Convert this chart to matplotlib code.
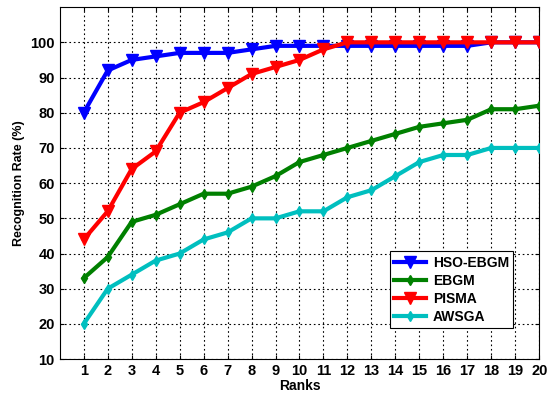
import matplotlib
matplotlib.use("Agg")
import matplotlib.pyplot as plt

ranks = list(range(1, 21))
hso_ebgm = [80, 92, 95, 96, 97, 97, 97, 98, 99, 99, 99, 99, 99, 99, 99, 99, 99, 100, 100, 100]
ebgm = [33, 39, 49, 51, 54, 57, 57, 59, 62, 66, 68, 70, 72, 74, 76, 77, 78, 81, 81, 82]
pisma = [44, 52, 64, 69, 80, 83, 87, 91, 93, 95, 98, 100, 100, 100, 100, 100, 100, 100, 100, 100]
awsga = [20, 30, 34, 38, 40, 44, 46, 50, 50, 52, 52, 56, 58, 62, 66, 68, 68, 70, 70, 70]
yticks = list(range(10, 101, 10))

plt.rcParams['font.family'] = ['Liberation Sans', 'DejaVu Sans']
plt.rcParams['font.weight'] = 'bold'

fig = plt.figure(figsize=(5.48, 3.96), dpi=100)
ax = fig.add_axes([0.109, 0.093, 0.875, 0.889])

ax.plot(ranks, hso_ebgm, color='#0000ff', lw=3, marker='v', ms=9, label='HSO-EBGM', zorder=3)
ax.plot(ranks, ebgm, color='#008000', lw=3, marker='d', ms=5, label='EBGM', zorder=3)
ax.plot(ranks, pisma, color='#ff0000', lw=3, marker='v', ms=9, label='PISMA', zorder=4)
ax.plot(ranks, awsga, color='#00bfbf', lw=3, marker='d', ms=5, label='AWSGA', zorder=3)

ax.set_xlim(0, 20)
ax.set_ylim(10, 110)
ax.set_xticks(ranks)
ax.set_yticks(yticks)
ax.tick_params(labelsize=10.5, direction='in', length=3, top=True, right=True)
for lbl in ax.get_xticklabels() + ax.get_yticklabels():
    lbl.set_fontweight('bold')
ax.grid(True, color='black', linestyle=(0, (1.5, 2.5)), linewidth=0.8)
ax.set_xlabel('Ranks', fontsize=10, fontweight='bold', labelpad=1)
ax.set_ylabel('Recognition Rate (%)', fontsize=9, fontweight='bold')

leg = ax.legend(loc='lower right', bbox_to_anchor=(0.946, 0.088), fontsize=10,
                fancybox=False, edgecolor='black', framealpha=1, handlelength=2.3,
                borderpad=0.3, labelspacing=0.3, borderaxespad=0, handletextpad=0.5)
leg.get_frame().set_linewidth(0.8)
for t in leg.get_texts():
    t.set_fontweight('bold')

fig.savefig('out.png', dpi=100)
